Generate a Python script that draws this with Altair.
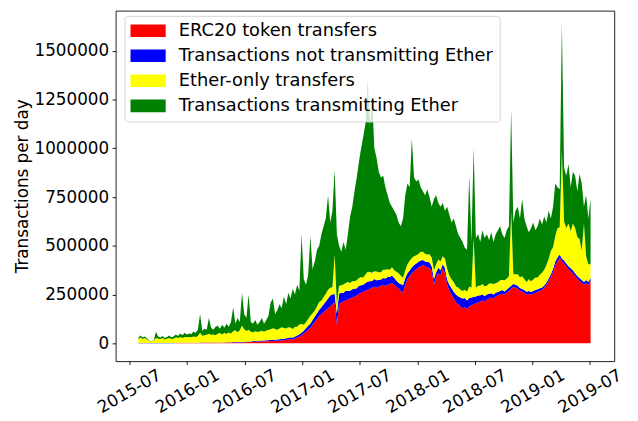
import altair as alt
import pandas as pd

# ---------------- data (thousands of transactions per day, weekly samples) ----------------
START = "2015-07-30"

total_k = [
    28, 40, 30, 35, 25, 14, 12, 15, 60, 35, 30, 38, 28, 32, 40, 30, 35, 45, 38, 50, 42, 55, 45,
    50, 48, 60, 55, 70, 150, 65, 75, 70, 130, 80, 70, 85, 90, 75, 95, 80, 100, 85, 110, 185, 100, 130, 110, 260, 150,
    130, 250, 110, 100, 120, 95, 110, 130, 100, 120, 140, 210, 230, 150, 170, 200, 180, 240, 200, 260, 230, 280, 250, 300, 270, 560,
    330, 300, 350, 550, 380, 420, 480, 500, 560, 600, 640, 760, 620, 680, 890, 560, 500, 470, 520, 480, 560, 650, 700, 780, 850,
    930, 1000, 1060, 1130, 1350, 1120, 1250, 1000, 950, 880, 850, 860, 800, 760, 720, 700, 680, 660, 620, 600, 640, 760, 820, 800,
    1050, 850, 830, 840, 800, 780, 760, 790, 750, 700, 740, 760, 720, 700, 720, 680, 700, 660, 620, 640,
    600, 560, 540, 520, 490, 480, 860, 520, 1000, 540, 560, 520, 580, 540, 560, 530, 570, 520, 560, 580, 600, 560, 540, 580, 600,
    1200, 620, 680, 700, 640, 740, 640, 600, 570, 590,
    620, 580, 600, 640, 610, 650, 620, 680, 640, 700, 820, 800, 790, 1640, 900, 860, 920, 800, 880, 860, 780, 870, 820, 700,
    760, 640, 740,
]

erc20_k = [
    1, 1, 1, 1, 1, 1, 1, 1, 1, 1, 1, 1, 1, 1, 1, 1, 1, 2, 2, 2, 2, 2, 2,
    2, 2, 2, 2, 2, 3, 3, 3, 3, 3, 3, 3, 3, 3, 4, 4, 4, 4, 4, 4, 5, 5, 5, 5, 5, 6,
    6, 7, 7, 8, 8, 9, 9, 10, 10, 11, 11, 12, 12, 13, 14, 14, 15, 16,
    18, 20, 22, 20, 25, 30, 35, 40,
    50, 60, 70, 80, 95, 110, 125, 140,
    150, 160, 170, 180, 190, 200, 210,
    95,
    200, 210, 215, 220, 225, 230, 235, 240, 245,
    255, 260, 265, 270, 275, 280, 285, 290, 285, 290, 295, 300, 295,
    300, 305, 310, 300, 290, 280, 270, 260, 300,
    330, 345, 360, 370, 380, 390, 395, 400, 395, 390, 385, 370,
    300, 340, 360, 350, 385, 360, 300, 270, 250, 230,
    210, 200, 190, 180, 185, 175, 190, 195, 200, 205,
    210, 215, 220, 215, 225, 230, 235, 230, 240, 245,
    250, 255, 250, 260, 270, 280, 290, 285, 280, 270,
    265, 260, 250, 255, 250, 255, 260, 265, 270, 275,
    285, 300, 320, 340, 365, 400, 420, 440, 420, 410,
    395, 380, 370, 360, 345, 330, 320, 310, 300, 310,
    300, 320,
]

not_eth_k = [
    1, 1, 1, 1, 1, 1, 1, 1, 1, 1, 1, 1, 1, 1, 1, 1, 1, 1, 1, 1, 1, 1, 1, 1, 1,
    1, 1, 1, 1, 1, 1, 1, 1, 1, 1, 1, 1, 1, 1, 1, 2, 2, 2, 2, 2, 2, 2, 2, 2,
    3, 3, 3, 4, 4, 4, 4, 5, 5, 5, 5, 6, 6, 6, 6, 7, 7, 8, 8, 8, 9, 9, 10, 10, 12, 14,
    15, 18, 20, 22, 25, 28, 30, 32, 35, 40, 45, 50, 55, 50, 45, 60, 55, 50, 45, 50, 45, 40, 42, 40, 38,
    40, 38, 35, 40, 42, 38, 35, 40, 38, 35, 32, 35, 38, 40, 35, 38, 35, 32, 30, 35, 38, 35, 30, 28, 30, 32,
    30, 28, 30, 28, 25, 28, 30, 25,
    30, 25, 28, 25, 22, 25, 28, 30, 32, 35, 40, 42, 45, 50, 48, 45, 42, 40, 38, 35, 35, 32, 30, 28, 25, 25, 22,
    20, 20, 18, 18, 18, 16, 16, 15, 15, 15, 15, 15, 14, 14, 14, 14, 14, 13, 13, 13, 13, 12, 12, 12, 12,
    12, 15, 18, 20, 20, 15, 15, 15, 15, 15, 15, 15, 15, 15, 15, 15, 15, 15, 15, 15,
]

eth_only_k = [
    20, 28, 20, 25, 18, 10, 9, 11, 25, 22, 20, 25, 18, 22, 25, 20, 22, 28, 25, 30, 25, 30, 28,
    30, 28, 32, 30, 35, 50, 35, 38, 40, 45, 40, 42, 38, 45, 48, 40, 50, 42, 50, 45, 55, 60, 50, 60, 85, 65,
    55, 60, 50, 45, 50, 45, 48, 50, 45, 50, 52, 55, 60, 55, 50, 55, 60, 55, 50, 55, 50, 45, 50, 45, 50, 45,
    30, 30, 35, 40, 35, 30, 35, 40, 35, 38, 40, 45, 40, 38, 200, 45,
    40, 38, 42, 40, 45, 40, 42, 38, 40,
    40, 42, 38, 45, 50, 48, 42, 40, 45, 40, 38, 42, 45, 40, 38, 42, 40, 45, 50, 42, 38, 40, 45, 50, 48,
    45, 42, 40, 45, 42, 40, 38, 42, 45,
    45, 40, 42, 45, 40, 50, 55, 48, 45, 50, 42, 45, 40, 38, 42, 45,
    60, 50, 300, 45, 50, 48, 55, 50, 45, 52, 50, 55, 48, 50, 55, 52, 58, 55, 60,
    380,
    50, 55, 60, 55, 65, 55, 50, 60, 55, 60, 65, 60, 70, 75, 80,
    90, 100, 120, 110, 130, 150, 140, 555, 200, 180, 220, 190, 240, 230, 200, 200, 150, 300, 120, 90, 70,
]

series_names = [
    "ERC20 token transfers",
    "Transactions not transmitting Ether",
    "Ether-only transfers",
    "Transactions transmitting Ether",
]
series_colors = ["#ff0000", "#0000ff", "#ffff00", "#008000"]

tick_dates = ["2015-07-01", "2016-01-01", "2016-07-01", "2017-01-01", "2017-07-01",
              "2018-01-01", "2018-07-01", "2019-01-01", "2019-07-01"]
y_ticks = [0, 250000, 500000, 750000, 1000000, 1250000, 1500000]

# ---------------- table ----------------
n = min(len(total_k), len(erc20_k), len(not_eth_k), len(eth_only_k))
dates = pd.date_range(START, periods=n, freq="7D")
rows = []
for i in range(n):
    t, r, b, y = total_k[i], erc20_k[i], not_eth_k[i], eth_only_k[i]
    g = max(t - r - b - y, 0)
    for k, (name, v) in enumerate(zip(series_names, [r, b, y, g])):
        rows.append({"date": dates[i].strftime("%Y-%m-%d"), "series": name,
                     "value": v * 1000, "k": k})
df = pd.DataFrame(rows)


def ms(s):
    return int(pd.Timestamp(s, tz="UTC").value // 10**6)


FONT = "DejaVu Sans"

chart = alt.Chart(df).mark_area(interpolate="linear").encode(
    x=alt.X(
        "date:T",
        scale=alt.Scale(type="utc", domain=[ms("2015-05-19"), ms("2019-09-17")], nice=False),
        axis=alt.Axis(
            values=[ms(d) for d in tick_dates], format="%Y-%m", title=None,
            labelAngle=330, labelAlign="center", labelBaseline="middle", labelPadding=27,
            labelFont=FONT, labelFontSize=17, labelColor="#000000",
            tickSize=3.5, tickColor="#000000", tickWidth=0.9, domain=False, grid=False,
            labelOverlap=False, labelFlush=False,
        ),
    ),
    y=alt.Y(
        "value:Q", stack="zero",
        scale=alt.Scale(domain=[-91000, 1706000], nice=False, zero=False),
        axis=alt.Axis(
            values=y_ticks, format="d", title="Transactions per day",
            labelFont=FONT, labelFontSize=17, labelColor="#000000", labelPadding=3.5,
            tickSize=3.5, tickColor="#000000", tickWidth=0.9, domain=False, grid=False,
            titleFont=FONT, titleFontSize=17, titleFontWeight="normal", titleColor="#000000",
            titleX=-89, titleAngle=270, titleBaseline="alphabetic", titleAlign="center",
            labelOverlap=False, labelFlush=False,
        ),
    ),
    color=alt.Color(
        "series:N",
        scale=alt.Scale(domain=series_names, range=series_colors),
        legend=alt.Legend(
            title=None, orient="none", legendX=9, legendY=5.3,
            symbolType="M-1,-0.714L3,-0.714L3,0.714L-1,0.714Z", symbolSize=317,
            symbolStrokeWidth=0, symbolOpacity=1,
            labelFont=FONT, labelFontSize=18, labelColor="#000000", labelOffset=31,
            padding=6, rowPadding=7.4, fillColor="rgba(255,255,255,0.8)",
            strokeColor="rgba(204,204,204,0.8)", cornerRadius=3, labelLimit=500,
        ),
    ),
    order=alt.Order("k:Q", sort="ascending"),
).properties(
    width=505, height=355,
    autosize=alt.AutoSizeParams(type="none"),
    padding={"left": 109, "top": 0, "right": 16, "bottom": 58},
    background="white",
).configure_view(stroke="#222222", strokeWidth=1)

chart.save("out.html", embed_options={"renderer": "svg", "actions": False})
